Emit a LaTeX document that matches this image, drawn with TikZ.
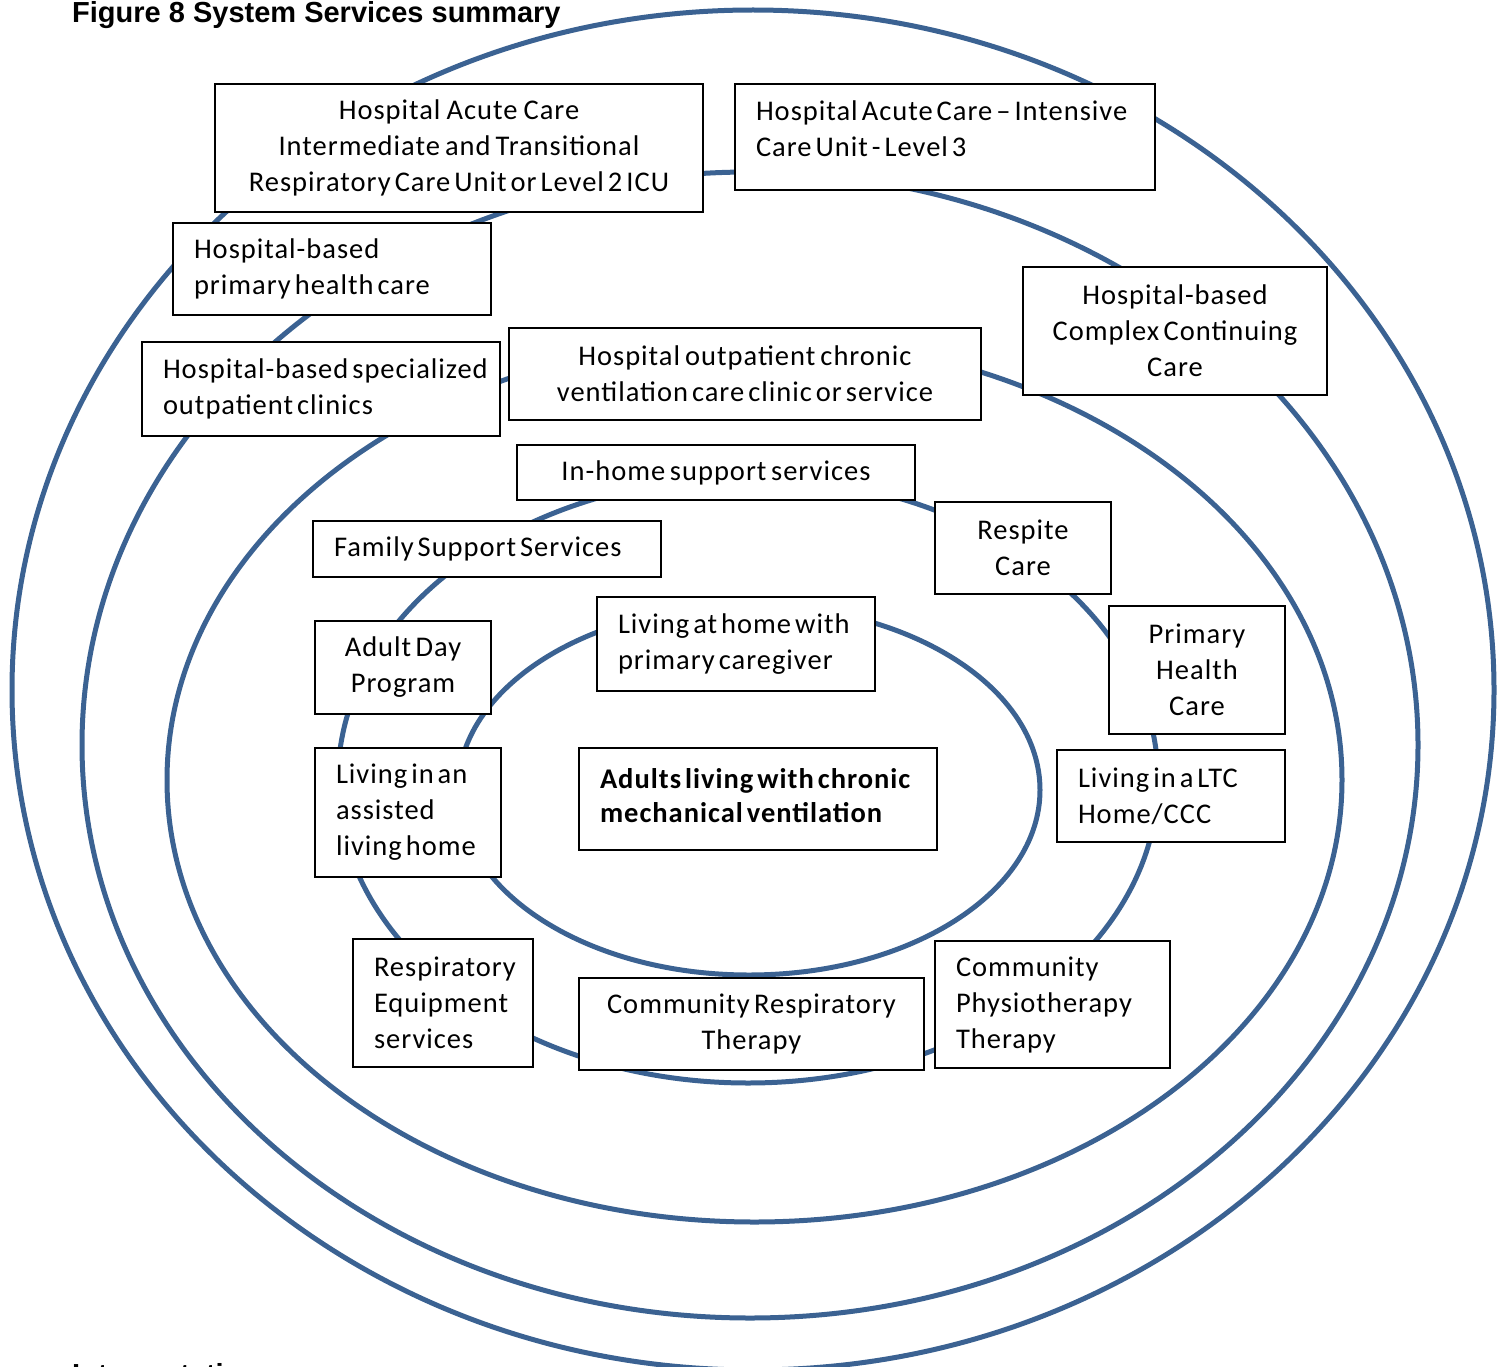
\documentclass[tikz,border=0pt]{standalone}
\usepackage{fontspec}
\setmainfont{Carlito}[LetterSpace=3.5]
\newfontfamily\titlefont{Liberation Sans}
\definecolor{ringc}{HTML}{3B6292}
\newcommand\nbl[1]{\mbox{#1}}
\tikzset{
  ringline/.style={draw=ringc, line width=5pt},
  cbox/.style={draw, fill=white, line width=2pt, inner ysep=0pt, inner xsep=6pt,
    align=center, font=\fontsize{28.5}{36}\selectfont,
    execute at begin node={\spaceskip=4pt plus 1pt minus 1pt\relax}},
  lbox/.style={cbox, inner xsep=21pt, align=left},
  titletext/.style={anchor=base west, inner sep=0pt, font=\titlefont\bfseries\fontsize{29}{29}\selectfont},
}
\begin{document}
\begin{tikzpicture}[x=1pt,y=-1pt]
\useasboundingbox (0,0) rectangle (1504,1367);
% rings
\draw[ringline] (753,690) ellipse [x radius=741pt, y radius=680pt];
\draw[ringline] (750,745) ellipse [x radius=668pt, y radius=573pt];
\draw[ringline] (754.5,780) ellipse [x radius=587.5pt, y radius=442pt];
\draw[ringline] (748,780) ellipse [x radius=410pt, y radius=303pt];
\draw[ringline] (749,790) ellipse [x radius=291pt, y radius=185pt];
% title
\node[titletext] (title) at (72,23) {Figure 8 System Services summary};
\node[titletext] (interp) at (72,1384) {Interpretation};
% boxes
\node[cbox, text width=476pt, minimum height=128pt] (acute2) at (459,148) {Hospital Acute Care\\Intermediate and Transitional\\\nbl{Respiratory Care Unit or Level 2 ICU}};
\node[lbox, text width=378pt, minimum height=106pt, text depth=53pt] (icu3) at (945,137) {\nbl{Hospital Acute Care -- Intensive}\\\nbl{Care Unit - Level 3}};
\node[lbox, text width=276pt, minimum height=92pt] (hbphc) at (332,269) {\nbl{Hospital-based}\\\nbl{primary health care}};
\node[cbox, text width=292pt, minimum height=128pt] (ccc) at (1175,331) {Hospital-based\\Complex Continuing\\Care};
\node[lbox, text width=316pt, minimum height=94pt] (spec) at (321,389) {\nbl{Hospital-based specialized}\\\nbl{outpatient clinics}};
\node[cbox, text width=460pt, minimum height=92pt] (outpt) at (745,374) {Hospital outpatient chronic\\\nbl{ventilation care clinic or service}};
\node[cbox, text width=386pt, minimum height=55pt] (inhome) at (716,472.5) {In-home support services};
\node[cbox, text width=164pt, minimum height=92pt] (respite) at (1023,548) {Respite\\Care};
\node[lbox, text width=306pt, minimum height=56pt] (family) at (487,549) {\nbl{Family Support Services}};
\node[cbox, text width=164pt, minimum height=93pt] (adult) at (403,667.5) {Adult Day\\Program};
\node[lbox, text width=236pt, minimum height=94pt] (athome) at (736,644) {\nbl{Living at home with}\\\nbl{primary caregiver}};
\node[cbox, text width=164pt, minimum height=128pt] (phc) at (1197,670) {Primary\\Health\\Care};
\node[lbox, text width=144pt, minimum height=129pt] (assisted) at (408,812.5) {\nbl{Living in an}\\\nbl{assisted}\\\nbl{living home}};
\node[lbox, text width=316pt, minimum height=102pt, text depth=41pt, font=\bfseries\fontsize{28.5}{34}\selectfont] (core) at (758,799) {\nbl{Adults living with chronic}\\\nbl{mechanical ventilation}};
\node[lbox, text width=186pt, minimum height=92pt] (ltc) at (1171,796) {\nbl{Living in a LTC}\\\nbl{Home/CCC}};
\node[lbox, text width=138pt, minimum height=128pt] (equip) at (443,1003) {\nbl{Respiratory}\\\nbl{Equipment}\\\nbl{services}};
\node[cbox, text width=333pt, minimum height=92pt] (crt) at (751.5,1024) {Community Respiratory\\Therapy};
\node[lbox, text width=193pt, minimum height=127pt] (physio) at (1052.5,1004.5) {\nbl{Community}\\\nbl{Physiotherapy}\\\nbl{Therapy}};
\end{tikzpicture}
\end{document}
